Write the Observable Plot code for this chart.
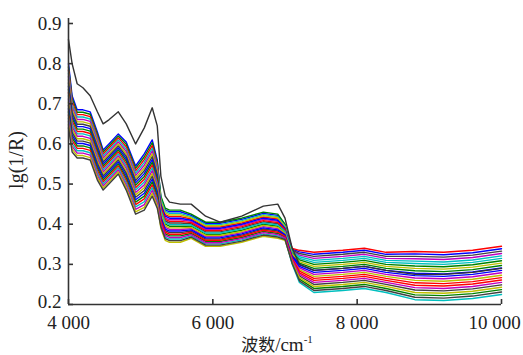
<!DOCTYPE html>
<html>
<head>
<meta charset="utf-8">
<script src="https://cdn.jsdelivr.net/npm/d3@7"></script>
<script src="https://cdn.jsdelivr.net/npm/@observablehq/plot@0.6"></script>
<style>
  html, body { margin: 0; padding: 0; background: #fff; }
</style>
</head>
<body>
<div id="chart"></div>
<script>
// Wavenumber knots (cm-1)
const wavenumbers = [4000,4050,4120,4200,4300,4400,4480,4560,4690,4800,4930,5050,5160,5230,
  5280,5340,5400,5550,5700,5900,6100,6400,6700,6900,7000,
  7100,7200,7400,7800,8100,8400,8800,9200,9600,10000];

// Outlier spectrum (dark line on top)
const outlier = [.86,.80,.75,.74,.72,.68,.65,.66,.68,.65,.60,.64,.69,.645,
  .52,.47,.455,.45,.45,.42,.405,.42,.445,.45,.415,
  .34,.30,.285,.29,.295,.285,.275,.275,.28,.29];

const s01 = [.80,.72,.685,.685,.68,.63,.585,.60,.625,.605,.545,.575,.61,.56, .466,.436,.431,.431,.422,.402,.402,.412,.427,.422,.398, .338,.331,.325,.33,.335,.325,.326,.324,.329,.339];
const s02 = [.792,.713,.679,.679,.674,.624,.58,.595,.62,.599,.539,.568,.603,.554, .47,.44,.435,.435,.425,.405,.405,.415,.43,.425,.40, .324,.303,.29,.295,.30,.29,.284,.282,.287,.297];
const s03 = [.784,.706,.673,.673,.668,.618,.575,.59,.615,.593,.533,.561,.596,.548, .454,.424,.419,.419,.413,.393,.393,.403,.418,.413,.392, .34,.335,.33,.335,.34,.33,.332,.33,.335,.345];
const s04 = [.776,.699,.667,.667,.662,.612,.57,.585,.61,.587,.527,.554,.589,.542, .462,.432,.427,.427,.419,.399,.399,.409,.424,.419,.396, .33,.315,.305,.31,.315,.305,.302,.30,.305,.315];
const s05 = [.768,.692,.661,.661,.656,.606,.565,.58,.605,.581,.521,.547,.582,.536, .446,.416,.411,.411,.407,.387,.387,.397,.412,.407,.388, .334,.323,.315,.32,.325,.315,.314,.312,.317,.327];
const s06 = [.76,.685,.655,.655,.65,.60,.56,.575,.60,.575,.515,.54,.575,.53, .458,.428,.423,.423,.416,.396,.396,.406,.421,.416,.394, .316,.287,.27,.275,.28,.27,.26,.258,.263,.273];
const s07 = [.752,.678,.649,.649,.644,.594,.555,.57,.595,.569,.509,.533,.568,.524, .438,.408,.403,.403,.401,.381,.381,.391,.406,.401,.384, .336,.327,.32,.325,.33,.32,.32,.318,.323,.333];
const s08 = [.744,.671,.643,.643,.638,.588,.55,.565,.59,.563,.503,.526,.561,.518, .45,.42,.415,.415,.41,.39,.39,.40,.415,.41,.39, .322,.299,.285,.29,.295,.285,.278,.276,.281,.291];
const s09 = [.736,.664,.637,.637,.632,.582,.545,.56,.585,.557,.497,.519,.554,.512, .43,.40,.395,.395,.395,.375,.375,.385,.40,.395,.38, .328,.311,.30,.305,.31,.30,.296,.294,.299,.309];
const s10 = [.728,.657,.631,.631,.626,.576,.54,.555,.58,.551,.491,.512,.547,.506, .442,.412,.407,.407,.404,.384,.384,.394,.409,.404,.386, .312,.279,.26,.265,.27,.26,.248,.246,.251,.261];
const s11 = [.72,.65,.625,.625,.62,.57,.535,.55,.575,.545,.485,.505,.54,.50, .434,.404,.399,.399,.398,.378,.378,.388,.403,.398,.382, .332,.319,.31,.315,.32,.31,.308,.306,.311,.321];
const s12 = [.712,.643,.619,.619,.614,.564,.53,.545,.57,.539,.479,.498,.533,.494, .422,.392,.387,.387,.389,.369,.369,.379,.394,.389,.376, .318,.291,.275,.28,.285,.275,.266,.264,.269,.279];
const s13 = [.704,.636,.613,.613,.608,.558,.525,.54,.565,.533,.473,.491,.526,.488, .426,.396,.391,.391,.392,.372,.372,.382,.397,.392,.378, .326,.307,.295,.30,.305,.295,.29,.288,.293,.303];
const s14 = [.696,.629,.607,.607,.602,.552,.52,.535,.56,.527,.467,.484,.519,.482, .414,.384,.379,.379,.383,.363,.363,.373,.388,.383,.372, .308,.271,.25,.255,.26,.25,.236,.234,.239,.249];
const s15 = [.688,.622,.601,.601,.596,.546,.515,.53,.555,.521,.461,.477,.512,.476, .418,.388,.383,.383,.386,.366,.366,.376,.391,.386,.374, .32,.295,.28,.285,.29,.28,.272,.27,.275,.285];
const s16 = [.68,.615,.595,.595,.59,.54,.51,.525,.55,.515,.455,.47,.505,.47, .406,.376,.371,.371,.377,.357,.357,.367,.382,.377,.368, .304,.263,.24,.245,.25,.24,.224,.222,.227,.237];
const s17 = [.672,.608,.589,.589,.584,.534,.505,.52,.545,.509,.449,.463,.498,.464, .41,.38,.375,.375,.38,.36,.36,.37,.385,.38,.37, .314,.283,.265,.27,.275,.265,.254,.252,.257,.267];
const s18 = [.664,.601,.583,.583,.578,.528,.50,.515,.54,.503,.443,.456,.491,.458, .398,.368,.363,.363,.371,.351,.351,.361,.376,.371,.364, .30,.255,.23,.235,.24,.23,.212,.21,.215,.225];
const s19 = [.656,.594,.577,.577,.572,.522,.495,.51,.535,.497,.437,.449,.484,.452, .402,.372,.367,.367,.374,.354,.354,.364,.379,.374,.366, .31,.275,.255,.26,.265,.255,.242,.24,.245,.255];
const s20 = [.648,.587,.571,.571,.566,.516,.49,.505,.53,.491,.431,.442,.477,.446, .39,.36,.355,.355,.365,.345,.345,.355,.37,.365,.36, .306,.267,.245,.25,.255,.245,.23,.228,.233,.243];
const s21 = [.64,.58,.565,.565,.56,.51,.485,.50,.525,.485,.425,.435,.47,.44, .394,.364,.359,.359,.368,.348,.348,.358,.373,.368,.362, .302,.259,.235,.24,.245,.235,.218,.216,.221,.231];

const spectra = [s01,s02,s03,s04,s05,s06,s07,s08,s09,s10,s11,s12,s13,s14,s15,s16,s17,s18,s19,s20,s21];

// MATLAB-style colour cycle
const palette = ["#0000ff","#008000","#ff0000","#00bfbf","#bf00bf","#bfbf00","#404040"];
const outlierColor = "#333333";

const xTicks = [4000, 6000, 8000, 10000];
const yTicks = [0.2, 0.3, 0.4, 0.5, 0.6, 0.7, 0.8, 0.9];
const xDomain = [4000, 10000];
const yDomain = [0.2, 0.9];

const xLabel = ["波数", "/cm", "-1"];
const yLabel = "lg(1/R)";

const SERIF = "'Liberation Serif', 'Times New Roman', serif";

// Build long table
const rows = [];
spectra.forEach((s, i) => s.forEach((v, j) => rows.push({id: "s" + i, w: wavenumbers[j], v, color: palette[i % palette.length]})));
outlier.forEach((v, j) => rows.push({id: "outlier", w: wavenumbers[j], v, color: outlierColor}));

const fmtX = d3.formatLocale({decimal: ".", thousands: " ", grouping: [3], currency: ["", ""]}).format(",");

const chart = Plot.plot({
  width: 523,
  height: 355,
  marginLeft: 68,
  marginRight: 22,
  marginTop: 23,
  marginBottom: 51,
  style: {fontFamily: SERIF, fontSize: "19px", color: "#222", background: "#fff"},
  x: {domain: xDomain, label: null},
  y: {domain: yDomain, label: null},
  marks: [
    Plot.line(rows, {x: "w", y: "v", z: "id", stroke: "color", strokeWidth: 1.4}),
    Plot.ruleX([xDomain[0]], {stroke: "#333", strokeWidth: 1.6, insetTop: -5}),
    Plot.ruleY([yDomain[0]], {stroke: "#333", strokeWidth: 1.6}),
    Plot.axisX({ticks: xTicks, tickSize: -5, tickPadding: 16, tickFormat: fmtX, label: null, stroke: "#333", strokeWidth: 1.6, fill: "#222", fontFamily: SERIF, fontSize: 19}),
    Plot.axisY({ticks: yTicks, tickSize: -5, tickPadding: 12, tickFormat: d3.format(".1f"), label: null, stroke: "#333", strokeWidth: 1.6, fill: "#222", fontFamily: SERIF, fontSize: 19})
  ]
});

document.getElementById("chart").appendChild(chart);

const svg = d3.select(chart);
svg.selectAll("text").attr("font-family", SERIF).style("font-family", SERIF);

// keep the last x tick label inside the picture, as in the reference
const xLabels = svg.selectAll("g[aria-label='x-axis tick label'] text").nodes();
if (xLabels.length) {
  d3.select(xLabels[xLabels.length - 1]).attr("dx", -7);
}
// lift the bottom y tick label slightly so it clears "4 000"
const yLabels = svg.selectAll("g[aria-label='y-axis tick label'] text").nodes();
if (yLabels.length) {
  const first = yLabels.reduce((a, b) => (+(b.getAttribute("y") || 0) > +(a.getAttribute("y") || 0) ? b : a));
  d3.select(first).attr("transform", function() {
    const t = this.getAttribute("transform") || "";
    return t + " translate(0,-3)";
  });
}

svg.append("text")
  .attr("transform", "translate(16,160) rotate(-90)")
  .attr("text-anchor", "middle")
  .attr("dominant-baseline", "central")
  .attr("font-family", SERIF)
  .style("font-family", SERIF)
  .attr("font-size", 20)
  .attr("fill", "#222")
  .text(yLabel);

const xl = svg.append("text")
  .attr("x", 277)
  .attr("y", 351)
  .attr("text-anchor", "middle")
  .attr("fill", "#222");
xl.append("tspan").style("font-family", "'Noto Sans CJK SC', sans-serif").attr("font-size", 17).text(xLabel[0]);
xl.append("tspan").style("font-family", SERIF).attr("font-size", 19).text(xLabel[1]);
xl.append("tspan").style("font-family", SERIF).attr("font-size", 11).attr("dy", -8).text(xLabel[2]);
</script>
</body>
</html>
